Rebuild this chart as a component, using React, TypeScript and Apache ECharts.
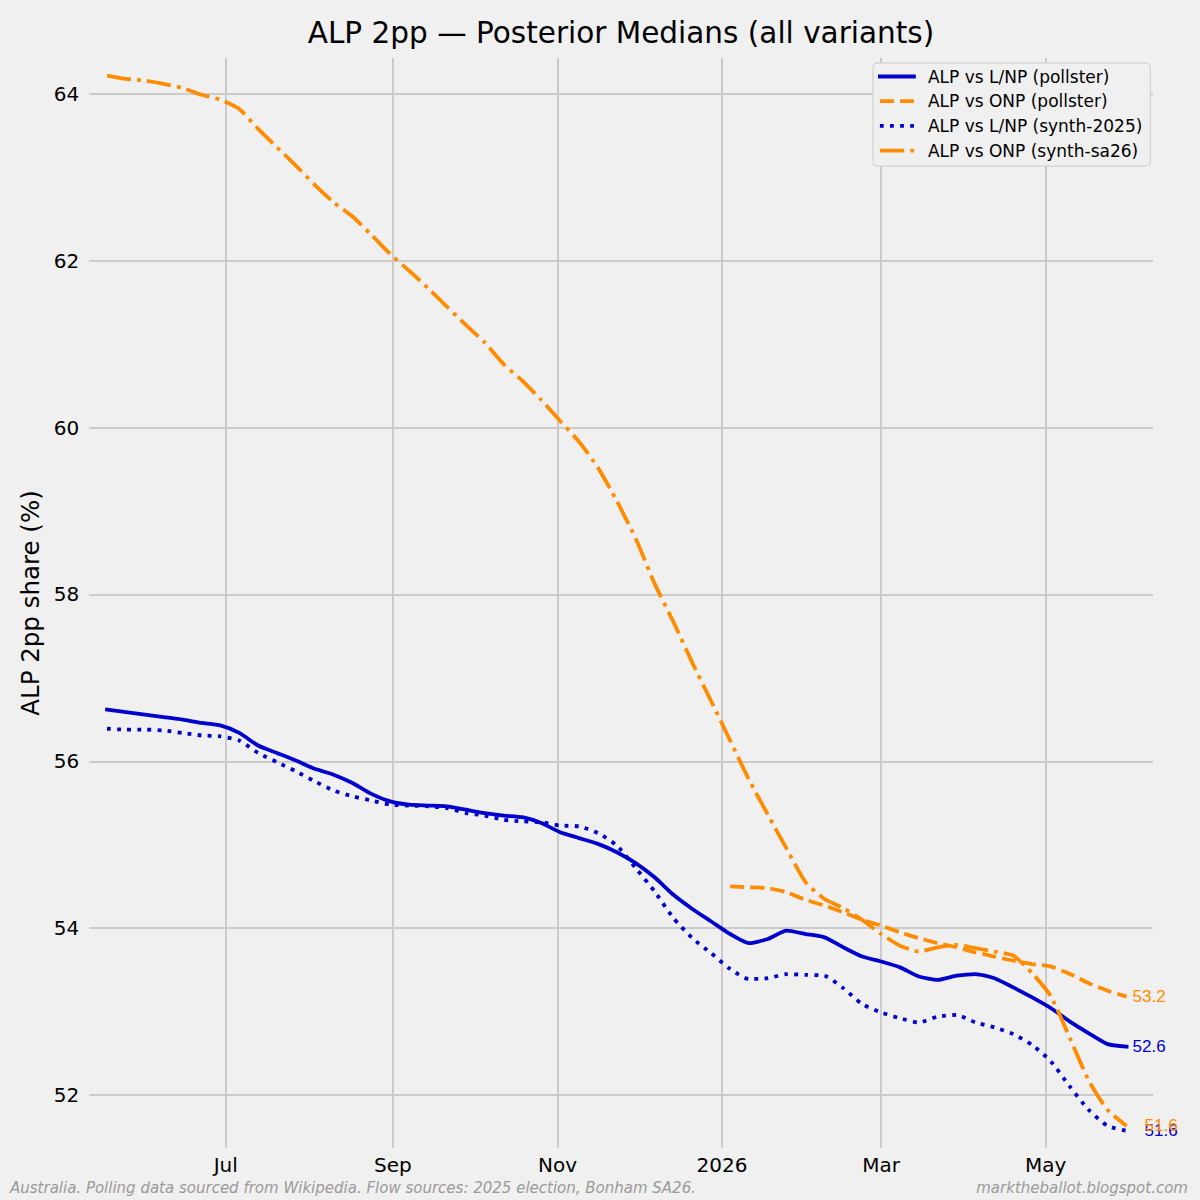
import React, { useEffect, useRef } from "react";
import * as echarts from "echarts";

const dates = [
  "2025-05-18", "2025-05-25", "2025-06-01", "2025-06-08", "2025-06-15", "2025-06-22", "2025-06-29",
  "2025-07-06", "2025-07-13", "2025-07-20", "2025-07-27", "2025-08-03", "2025-08-10", "2025-08-17",
  "2025-08-24", "2025-08-31", "2025-09-07", "2025-09-14", "2025-09-21", "2025-09-28", "2025-10-05",
  "2025-10-12", "2025-10-19", "2025-10-26", "2025-11-02", "2025-11-09", "2025-11-16", "2025-11-23",
  "2025-11-30", "2025-12-07", "2025-12-14", "2025-12-21", "2025-12-28", "2026-01-04", "2026-01-11",
  "2026-01-18", "2026-01-25", "2026-02-01", "2026-02-08", "2026-02-15", "2026-02-22", "2026-03-01",
  "2026-03-08", "2026-03-15", "2026-03-22", "2026-03-29", "2026-04-05", "2026-04-12", "2026-04-19",
  "2026-04-26", "2026-05-03", "2026-05-10", "2026-05-17", "2026-05-24", "2026-05-31",
];

const alpLnpPollster = [
  56.62, 56.59, 56.56, 56.53, 56.5, 56.46, 56.43, 56.34, 56.19, 56.1,
  56.01, 55.91, 55.84, 55.74, 55.61, 55.52, 55.48, 55.47, 55.46, 55.42,
  55.38, 55.35, 55.33, 55.26, 55.15, 55.08, 55.01, 54.91, 54.78, 54.61,
  54.4, 54.23, 54.08, 53.93, 53.82, 53.87, 53.97, 53.93, 53.89, 53.77,
  53.66, 53.6, 53.53, 53.42, 53.38, 53.43, 53.45, 53.4, 53.29, 53.17,
  53.04, 52.88, 52.74, 52.61, 52.58,
];

const alpOnpPollster = [
  null, null, null, null, null, null, null, null, null, null,
  null, null, null, null, null, null, null, null, null, null,
  null, null, null, null, null, null, null, null, null, null,
  null, null, null, 54.5, 54.49, 54.48, 54.43, 54.34, 54.27, 54.19,
  54.1, 54.03, 53.95, 53.88, 53.82, 53.77, 53.71, 53.66, 53.61, 53.57,
  53.54, 53.45, 53.34, 53.25, 53.18,
];

const alpLnpSynth2025 = [
  56.39, 56.38, 56.38, 56.37, 56.34, 56.31, 56.3, 56.25, 56.1, 55.99,
  55.88, 55.76, 55.65, 55.58, 55.53, 55.48, 55.47, 55.46, 55.44, 55.38,
  55.35, 55.3, 55.28, 55.27, 55.23, 55.22, 55.14, 54.99, 54.72, 54.44,
  54.12, 53.88, 53.7, 53.51, 53.39, 53.4, 53.45, 53.44, 53.43, 53.28,
  53.09, 52.99, 52.92, 52.87, 52.94, 52.96, 52.87, 52.81, 52.73, 52.6,
  52.4, 52.1, 51.82, 51.63, 51.57,
];

const alpOnpSynthSa26 = [
  64.22, 64.18, 64.16, 64.12, 64.07, 63.99, 63.93, 63.82, 63.58, 63.36,
  63.14, 62.91, 62.7, 62.53, 62.31, 62.08, 61.88, 61.67, 61.45, 61.23,
  61.02, 60.76, 60.56, 60.33, 60.08, 59.83, 59.52, 59.12, 58.67, 58.13,
  57.67, 57.18, 56.72, 56.25, 55.78, 55.36, 54.95, 54.55, 54.35, 54.24,
  54.1, 53.93, 53.79, 53.72, 53.77, 53.8, 53.76, 53.72, 53.67, 53.46,
  53.18, 52.68, 52.17, 51.82, 51.63,
];

const seriesNames = [
  "ALP vs L/NP (pollster)",
  "ALP vs ONP (pollster)",
  "ALP vs L/NP (synth-2025)",
  "ALP vs ONP (synth-sa26)",
];

const tickDates = ["2025-07-01", "2025-09-01", "2025-11-01", "2026-01-01", "2026-03-01", "2026-05-01"];
const tickLabels = ["Jul", "Sep", "Nov", "2026", "Mar", "May"];
const yTicks = [52, 54, 56, 58, 60, 62, 64];

const BLUE = "#0000cd";
const ORANGE = "#ff8c00";
const FONT = "DejaVu Sans";

function ts(s: string): number {
  const [y, m, d] = s.split("-").map(Number);
  return Date.UTC(y, m - 1, d);
}

function pairs(vals: (number | null)[]) {
  const out: [number, number][] = [];
  vals.forEach((v, i) => {
    if (v !== null && v !== undefined) out.push([ts(dates[i]), v]);
  });
  return out;
}

export default function App() {
  const ref = useRef<HTMLDivElement>(null);

  useEffect(() => {
    if (!ref.current) return;
    const chart = echarts.init(ref.current, undefined, { renderer: "svg" });
    const tickTs = tickDates.map(ts);
    const labelFor = (v: number) => {
      const i = tickTs.findIndex((t) => Math.abs(t - v) < 3600000);
      return i >= 0 ? tickLabels[i] : "";
    };

    const lw = 3.8;
    const mkEnd = (color: string, distance: number) => ({
      show: true,
      formatter: (p: any) => Number(p.value[1]).toFixed(1),
      color,
      fontSize: 17,
      fontFamily: "Liberation Sans",
      distance,
    });

    chart.setOption({
      animation: false,
      backgroundColor: "#f0f0f0",
      textStyle: { fontFamily: FONT },
      grid: { left: 89.3, right: 47, top: 58, bottom: 52, containLabel: false },
      legend: {
        orient: "vertical",
        left: 873,
        top: 63,
        itemWidth: 34,
        itemHeight: 14,
        itemGap: 7.7,
        padding: [5, 8, 7, 5],
        backgroundColor: "#f0f0f0",
        borderColor: "#cccccc",
        borderWidth: 1,
        borderRadius: 4,
        itemStyle: { opacity: 0 },
        lineStyle: { width: 3.8 },
        textStyle: { fontSize: 17, color: "#000", fontFamily: FONT, padding: [0, 0, 0, 9] },
        data: seriesNames,
      },
      xAxis: {
        type: "value",
        min: Date.UTC(2025, 4, 11, 10),
        max: Date.UTC(2026, 5, 9, 19),
        axisLine: { show: false },
        axisTick: { show: false, customValues: tickTs },
        axisLabel: {
          customValues: tickTs,
          formatter: (v: number) => labelFor(v),
          fontSize: 20,
          color: "#000",
          fontFamily: FONT,
          margin: 7,
        },
        splitLine: { show: true, lineStyle: { color: "#cbcbcb", width: 2 } },
      },
      yAxis: {
        type: "value",
        min: 51.365,
        max: 64.43,
        name: "ALP 2pp share (%)",
        nameLocation: "middle",
        nameGap: 44,
        nameRotate: 90,
        nameTextStyle: { fontSize: 24.5, color: "#000", fontFamily: FONT },
        axisLine: { show: false },
        axisTick: { show: false, customValues: yTicks },
        axisLabel: {
          customValues: yTicks,
          fontSize: 20,
          color: "#000",
          fontFamily: FONT,
          margin: 10,
        },
        splitLine: { show: true, lineStyle: { color: "#cbcbcb", width: 2 } },
      },
      series: [
        {
          name: seriesNames[0],
          type: "line",
          data: pairs(alpLnpPollster),
          symbol: "none",
          showSymbol: false,
          smooth: 0.2,
          lineStyle: { color: BLUE, width: lw, type: "solid", cap: "square" },
          itemStyle: { color: BLUE },
          endLabel: mkEnd(BLUE, 6),
        },
        {
          name: seriesNames[1],
          type: "line",
          data: pairs(alpOnpPollster),
          symbol: "none",
          showSymbol: false,
          smooth: 0.2,
          lineStyle: { color: ORANGE, width: lw, type: [14.1, 6.1], cap: "butt" },
          itemStyle: { color: ORANGE },
          endLabel: mkEnd(ORANGE, 6),
        },
        {
          name: seriesNames[2],
          type: "line",
          data: pairs(alpLnpSynth2025),
          symbol: "none",
          showSymbol: false,
          smooth: 0.2,
          lineStyle: { color: BLUE, width: lw, type: [3.8, 6.3], cap: "butt" },
          itemStyle: { color: BLUE },
          endLabel: mkEnd(BLUE, 18),
        },
        {
          name: seriesNames[3],
          type: "line",
          data: pairs(alpOnpSynthSa26),
          symbol: "none",
          showSymbol: false,
          smooth: 0.2,
          lineStyle: { color: ORANGE, width: lw, type: [24.3, 6.1, 3.8, 6.1], cap: "butt" },
          itemStyle: { color: ORANGE },
          endLabel: mkEnd(ORANGE, 18),
        },
      ],
      graphic: [
        {
          type: "text",
          x: 621,
          y: 33,
          style: {
            text: "ALP 2pp — Posterior Medians (all variants)",
            fontSize: 29.5,
            fontFamily: FONT,
            fill: "#000",
            textAlign: "center",
            textVerticalAlign: "middle",
          },
        },
        {
          type: "text",
          x: 10,
          y: 1188,
          style: {
            text: "Australia. Polling data sourced from Wikipedia. Flow sources: 2025 election, Bonham SA26.",
            fontSize: 15,
            fontStyle: "italic",
            fontFamily: FONT,
            fill: "#9a9a9a",
            textAlign: "left",
            textVerticalAlign: "middle",
          },
        },
        {
          type: "text",
          x: 1188,
          y: 1188,
          style: {
            text: "marktheballot.blogspot.com",
            fontSize: 15,
            fontStyle: "italic",
            fontFamily: FONT,
            fill: "#9a9a9a",
            textAlign: "right",
            textVerticalAlign: "middle",
          },
        },
      ],
    });

    return () => chart.dispose();
  }, []);

  return (
    <div
      ref={ref}
      style={{ position: "fixed", left: 0, top: 0, width: 1200, height: 1200 }}
    />
  );
}
